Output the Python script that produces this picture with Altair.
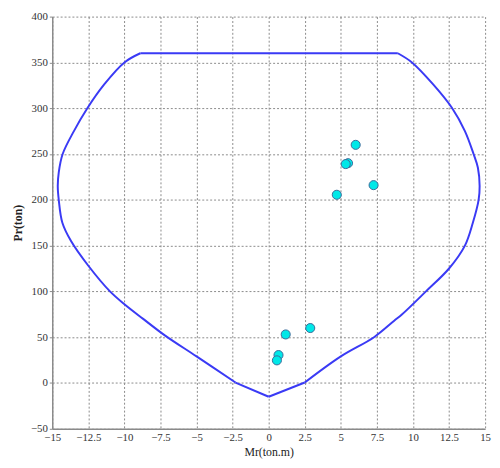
import altair as alt
import pandas as pd

# Interaction diagram outline (Mr, Pr), traced in order, split into pieces
seg_names = ["a", "a",
             "b", "b", "b", "b", "b", "b", "b", "b", "b", "b", "b", "b", "b", "b", "b", "b", "b", "b",
             "c", "c",
             "d", "d", "d", "d", "d", "d", "d", "d", "d", "d", "d", "d", "d", "d", "d", "d", "d", "d",
             "e", "e"]
curve_m = [0, 2.5,
           2.5, 5.0, 7.3, 8.7, 9.25, 10.9, 12.5, 13.6, 14.15, 14.55, 14.62, 14.5, 14.2, 13.6, 12.72, 11.4, 9.93, 8.95,
           8.95, -8.9,
           -8.9, -10.0, -11.4, -12.57, -13.5, -14.28, -14.55, -14.62, -14.55, -14.3, -13.7, -12.5, -11.0, -10.0, -8.7, -7.2, -5.0, -2.3,
           -2.3, 0]
curve_p = [-15, 0.5,
           0.5, 29, 50, 68, 75, 100, 125, 150, 175, 200, 215, 235, 250, 275, 300, 326, 350, 360,
           360, 360,
           360, 350, 326, 300, 275, 250, 230, 215, 200, 175, 155, 128, 100, 86, 70, 52, 29, 0.5,
           0.5, -15]

# Load points
pts_m = [6.03, 5.5, 5.34, 7.27, 4.72, 1.18, 2.88, 0.68, 0.57]
pts_p = [260, 240, 239, 216, 205.5, 53, 60, 30.5, 24.7]

x_ticks = [-15, -12.5, -10, -7.5, -5, -2.5, 0, 2.5, 5, 7.5, 10, 12.5, 15]
y_ticks = [-50, 0, 50, 100, 150, 200, 250, 300, 350, 400]

curve_df = pd.DataFrame({"m": curve_m, "p": curve_p, "seg": seg_names,
                         "o": list(range(len(curve_m)))})
pts_df = pd.DataFrame({"m": pts_m, "p": pts_p})

FONT = "Liberation Serif"

xscale = alt.Scale(domain=[-15, 15], nice=False, zero=False)
yscale = alt.Scale(domain=[-50, 400], nice=False, zero=False)

xaxis = alt.Axis(values=x_ticks, title="Mr(ton.m)", grid=True, labelFlush=False,
                 labelOverlap=False, tickSize=0, format=".1~f", labelSeparation=0)
yaxis = alt.Axis(values=y_ticks, title="Pr(ton)", grid=True, labelFlush=False,
                 labelOverlap=False, format="d")

line = alt.Chart(curve_df).mark_line(color="#3a3af5", strokeWidth=2, interpolate="catmull-rom").encode(
    x=alt.X("m:Q", scale=xscale, axis=xaxis),
    y=alt.Y("p:Q", scale=yscale, axis=yaxis),
    detail="seg:N",
    order="o:Q",
)

points = alt.Chart(pts_df).mark_point(
    shape="circle", filled=True, size=85, fill="#00e8e8", stroke="#3a6a9a", strokeWidth=1, opacity=1
).encode(
    x=alt.X("m:Q", scale=xscale, axis=xaxis),
    y=alt.Y("p:Q", scale=yscale, axis=yaxis),
)

chart = (line + points).properties(
    width=440, height=419,
    autosize=alt.AutoSizeParams(type="none"),
    padding={"left": 45, "top": 5, "right": 7, "bottom": 30},
).configure_view(stroke=None).configure_axis(
    gridDash=[2, 2], gridColor="#8a8a8a", gridWidth=1, gridOpacity=1,
    domainColor="#8a8a8a", domainWidth=1.5,
    tickColor="#8a8a8a", tickSize=3,
    labelFont=FONT, labelFontSize=11, labelColor="#333333",
    titleFont=FONT, titleFontSize=12, titleColor="#222222", titleFontWeight="normal",
    labelOverlap=False,
).configure_axisY(titleFontWeight="bold", titlePadding=6, labelPadding=2
).configure_axisX(titlePadding=4, labelPadding=3)

chart.save("out.html", embed_options={"renderer": "svg", "actions": False})
